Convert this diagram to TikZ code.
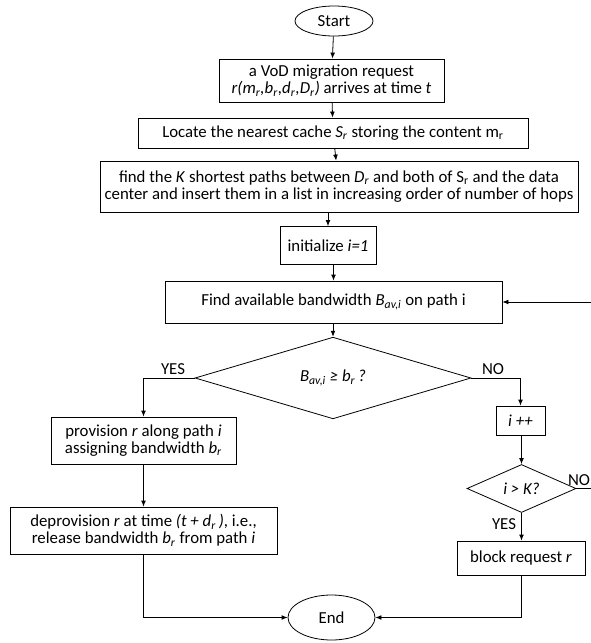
\documentclass[tikz,border=0pt]{standalone}
\usepackage{fontspec}
\setmainfont{Carlito}
\usetikzlibrary{shapes.geometric,arrows.meta}

\newcommand{\rsub}{\textsubscript{\textit{r}}}

\tikzset{
  box/.style={draw, rectangle, inner sep=1pt, align=center},
  term/.style={draw, ellipse, inner sep=0pt},
  test/.style={draw, diamond, inner sep=0pt},
  flow/.style={-{Latex[length=4.5pt,width=3.6pt]}},
  tag/.style={inner sep=0pt}
}

\begin{document}
\begin{tikzpicture}[x=0.75pt,y=-0.75pt,line width=0.6pt,font=\fontsize{12.6}{13}\selectfont]
\useasboundingbox (0,0) rectangle (591,643);

\node[term, minimum width=58.5pt, minimum height=22.5pt] (start) at (334,21) {Start};
\node[box, minimum width=168.75pt, minimum height=32.25pt] (req) at (331.5,80.5)
  {a VoD migration request\\\textit{r(m\rsub,b\rsub,d\rsub,D\rsub)} arrives at time \textit{t}};
\node[box, minimum width=292.5pt, minimum height=22.5pt] (locate) at (333,133)
  {Locate the nearest cache \textit{S}\rsub{} storing the content m\textsubscript{r}};
\node[box, minimum width=358.5pt, minimum height=38.25pt] (kpaths) at (339,186.5)
  {find the \textit{K} shortest paths between \textit{D}\rsub{} and both of S\textsubscript{r} and the data\\center and insert them in a list in increasing order of number of hops};
\node[box, minimum width=72pt, minimum height=28.5pt] (init) at (328,245.5) {initialize \textit{i=1}};
\node[box, minimum width=252.75pt, minimum height=31.5pt] (find) at (333.5,302)
  {Find available bandwidth \textit{B}\textsubscript{\textit{av,i}} on path i};
\node[test, minimum width=207pt, minimum height=54pt] (check) at (333,378)
  {\textit{B\textsubscript{av,i} ≥ b\textsubscript{r}\,?}};

% left branch
\node[box, minimum width=138.75pt, minimum height=35.25pt] (prov) at (143.5,440.5)
  {provision \textit{r} along path \textit{i}\\assigning bandwidth \textit{b}\rsub};
\node[box, minimum width=200.25pt, minimum height=35.25pt] (deprov) at (143.5,530.5)
  {deprovision \textit{r} at time \textit{(t + d\rsub\,)}, i.e.,\\release bandwidth \textit{b}\rsub{} from path \textit{i}};

% right branch
\node[box, minimum width=36.75pt, minimum height=21.75pt] (inc) at (520.5,420.5) {\textit{i ++}};
\node[test, minimum width=81.75pt, minimum height=30.75pt] (chk2) at (521.5,488.5) {\textit{i > K?}};
\node[box, minimum width=96pt, minimum height=25.5pt] (block) at (521,558) {block request \textit{r}};

\node[term, minimum width=65.25pt, minimum height=33.75pt] (end) at (331.5,617.5) {End};

\node[tag] (yes1) at (173,369) {YES};
\node[tag] (no1) at (493,369) {NO};
\node[tag] (no2) at (579,480) {NO};
\node[tag] (yes2) at (504,524) {YES};

\draw[flow] (start) -- (req);
\draw[flow] (req) -- (locate);
\draw[flow] (locate) -- (kpaths);
\draw[flow] (kpaths.south -| init) -- (init);
\draw[flow] (init.south -| find) -- (find);
\draw[flow] (find.south -| check) -- (check);
\draw[flow] (check.west) -| (prov.north);
\draw[flow] (check.east) -| (inc.north);
\draw[flow] (prov) -- (deprov);
\draw[flow] (inc.south -| chk2) -- (chk2);
\draw[flow] (chk2.south) -- (chk2.south |- block.north);
\draw[flow] (deprov.south) |- (end.west);
\draw[flow] (block.south) |- (end.east);

% loop back, leaves the frame on the right
\begin{scope}
\clip (0,0) rectangle (591,643);
\draw[flow] (chk2.east) -- ++(40,0) |- (find.east);
\end{scope}

\end{tikzpicture}
\end{document}
